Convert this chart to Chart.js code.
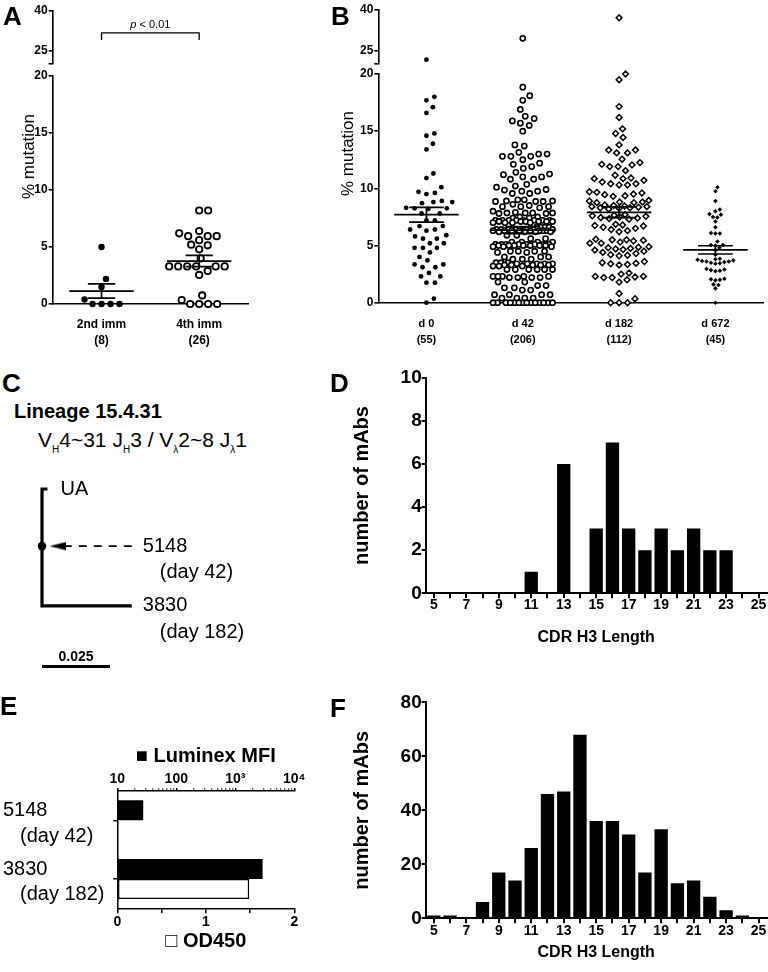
<!DOCTYPE html>
<html>
<head>
<meta charset="utf-8">
<title>Figure</title>
<script src="https://cdn.jsdelivr.net/npm/chart.js@4.4.1/dist/chart.umd.min.js"></script>
<style>
  html, body { margin:0; padding:0; background:#fff; }
  #wrap { position:relative; width:768px; height:972px; overflow:hidden; background:#fff; color:#000;
          font-family:"Liberation Sans", Arial, Helvetica, sans-serif; }
  #wrap canvas { position:absolute; z-index:1; }
  .t { position:absolute; white-space:nowrap; line-height:1; color:#000; z-index:5; }
  .s { font-size:10px; position:relative; top:6px; color:#000; }
</style>
</head>
<body>
<div id="wrap"></div>
<script>
// ================= DATA =================
// Panel A
const aCategories = ['2nd imm', '4th imm'];
const aSecondImm = [5.0, 2.2, 1.5, 0.4, 0, 0, 0, 0];
const aFourthImm = [8.2, 8.2, 6.2, 5.95, 5.95, 5.95, 6.4, 5.6, 5.15, 5.2, 4.8, 4.0, 3.3, 3.3, 3.3, 3.3, 3.3, 3.3, 2.9, 2.55, 0.35, 0, 0, 0, 0, 0.75];
const pValueLabel = 'p < 0.01';

// Panel B
const bCategories = ['d 0', 'd 42', 'd 182', 'd 672'];
const bDay0 = [21.6, 18.0, 17.7, 17.1, 16.6, 14.8, 14.6, 13.9, 13.4, 11.3, 10.9, 10.1, 9.6, 9.5, 9.7,
  8.8, 8.7, 8.8, 8.9, 8.25, 8.3, 8.25, 8.2, 7.8, 7.8, 7.2, 7.2, 6.7, 6.7, 6.4, 6.4, 6.3, 5.9, 5.8,
  5.6, 5.6, 5.2, 5.2, 4.8, 4.8, 4.8, 4.4, 4.0, 3.7, 3.35, 3.1, 3.1, 3.35, 2.6, 2.3, 2.3, 1.75, 1.75, 0.35, 0];
const bDay42 = [29.5,
  18.85, 18.1, 17.7, 16.9, 16.3, 16.1, 15.9, 15.7, 15.5, 15.0,
  13.8, 13.7,
  13.15, 13.0, 13.0, 12.8, 12.8, 12.8,
  12.5, 12.2, 12.1, 11.9, 11.75,
  11.4, 11.25, 11.2, 11.0, 11.0, 10.8, 10.8,
  10.35, 10.2, 10.1, 9.9, 9.85, 9.75, 9.75,
  9.55, 9.55,
  9.0, 9.0, 8.9, 8.9, 8.85, 8.85, 8.85,
  8.6, 8.5, 8.4, 8.4, 8.4, 8.3,
  8.0, 7.9, 7.85, 7.85, 7.85, 7.85, 7.8, 7.8,
  7.5, 7.5, 7.4, 7.4,
  7.2, 7.2, 7.2, 7.2, 7.2, 7.2, 7.2, 7.2,
  7.1, 7.1, 7.1, 7.1, 7.1, 7.1,
  7.0, 7.0, 7.0, 7.0,
  6.6, 6.6, 6.6, 6.6,
  6.4, 6.4, 6.4, 6.4, 6.4, 6.4, 6.4, 6.4,
  6.3, 6.3, 6.3, 6.3, 6.3, 6.3, 6.3, 6.3,
  6.2, 6.2, 6.2, 6.2,
  5.9, 5.9, 5.6, 5.6,
  5.3, 5.3, 5.3, 5.3,
  5.1, 5.1, 5.1, 5.1, 5.1, 5.1, 5.1, 5.1,
  5.0, 5.0, 5.0, 5.0, 5.0, 5.0, 5.0,
  4.9, 4.9, 4.9,
  4.5, 4.5, 4.5, 4.5, 4.4, 4.4,
  4.0, 4.0, 4.0, 3.8, 3.8, 3.8,
  3.5, 3.5, 3.5, 3.4, 3.4, 3.4, 3.4, 3.4, 3.3, 3.3, 3.3, 3.3, 3.3, 3.2, 3.2, 3.2,
  2.9, 2.9, 2.9, 2.9, 2.9, 2.9,
  2.3, 2.3, 2.3, 2.3, 2.3, 2.2, 2.2, 2.2, 2.2,
  1.8, 1.8,
  1.5, 1.5, 1.3, 1.3, 1.1, 1.1,
  0.7, 0.7, 0.7, 0.7, 0.4, 0.4, 0.4, 0.4,
  0, 0, 0, 0, 0, 0, 0, 0, 0, 0, 0, 0, 0, 0];
const bDay182 = [37.1,
  20.0, 19.5,
  17.15, 16.2, 15.2, 14.8, 14.45,
  13.8, 13.35, 13.35, 13.1, 13.1, 12.55,
  12.25, 12.1, 12.05, 11.9, 11.9, 11.55,
  11.15, 10.9, 10.85, 10.85, 10.7, 10.55, 10.4, 10.4, 10.3, 10.3,
  9.7, 9.65, 9.6, 9.5, 9.45, 9.35, 9.3,
  8.95, 8.9, 8.8, 8.8, 8.75, 8.75,
  8.55, 8.5, 8.45, 8.4, 8.4, 8.35, 8.3, 8.3, 8.25, 8.2,
  7.7, 7.65, 7.6, 7.55, 7.5, 7.45, 7.4, 7.35, 7.3,
  6.85, 6.8, 6.75, 6.7, 6.6, 6.5, 6.4, 6.3, 6.2,
  5.55, 5.5, 5.5, 5.45, 5.4, 5.3, 5.2, 5.2,
  4.9, 4.85, 4.8, 4.75, 4.7, 4.65, 4.6, 4.5, 4.4, 4.3, 4.2, 4.15, 4.1,
  3.6, 3.5, 3.45, 3.4, 3.35, 3.3,
  2.6, 2.5, 2.3, 2.3, 2.25, 2.2, 2.2, 2.0, 1.8,
  0.8, 0.35, 0, 0, 0];
const bDay672 = [10.1, 9.75, 8.9, 8.15, 8.0, 7.75, 7.7, 7.5, 7.45, 7.1, 6.6, 6.1, 6.05, 6.05,
  5.35, 5.05, 5.05, 5.0, 4.8, 4.6, 4.2,
  3.85, 3.8, 3.75, 3.7, 3.65, 3.6, 3.6, 3.55, 3.5, 3.45, 3.4,
  2.95, 2.9, 2.85, 2.8, 2.75,
  2.1, 2.05, 2.0, 1.95,
  1.6, 1.55,
  1.25, 0];
const mutationTicksLower = [0, 5, 10, 15, 20];
const mutationTicksUpper = [25, 40];
const mutationAxisTitle = '% mutation';

// Panel C (lineage tree)
const treeLabels = ['UA', '5148', '3830'];
const treeSubLabels = ['', '(day 42)', '(day 182)'];
const treeDepth = [0, 0.021, 0.043];
const treeBranch = [0.002, 0, 0.033];
const scaleBarLength = 0.025;

// Panels D and F (CDR H3 length histograms)
const cdrLengths = ['5', '6', '7', '8', '9', '10', '11', '12', '13', '14', '15', '16', '17', '18', '19', '20', '21', '22', '23', '24', '25'];
const dCounts = [0, 0, 0, 0, 0, 0, 1, 0, 6, 0, 3, 7, 3, 2, 3, 2, 3, 2, 2, 0, 0];
const fCounts = [1, 1, 0, 6, 17, 14, 26, 46, 47, 68, 36, 36, 31, 17, 33, 13, 14, 8, 3, 1, 0];

// Panel E
const eClones = ['5148', '3830'];
const eCloneDays = ['(day 42)', '(day 182)'];
const eLuminexMFI = [27.5, 2900];
const eOD450 = [null, 1.49];
const eMfiTickLabels = ['10', '100', '10³', '10⁴'];
const eOdTicks = [0, 0.5, 1, 1.5, 2];

// ================= HELPERS =================
const FONT = '"Liberation Sans", Arial, Helvetica, sans-serif';
Chart.defaults.font.family = FONT;
Chart.defaults.color = '#000';
const BREAK = 20;
const wrap = document.getElementById('wrap');

function makeCanvas(l, t, w, h) {
  const c = document.createElement('canvas');
  c.width = w; c.height = h;
  c.style.left = l + 'px'; c.style.top = t + 'px';
  c.style.width = w + 'px'; c.style.height = h + 'px';
  wrap.appendChild(c);
  return c;
}
function addText(html, x, baseline, size, weight) {
  const d = document.createElement('div');
  d.className = 't';
  d.innerHTML = html;
  d.style.fontSize = size + 'px';
  d.style.fontWeight = weight;
  d.style.left = x + 'px';
  d.style.top = Math.round(baseline - 0.8465 * size) + 'px';
  wrap.appendChild(d);
}
// rotated (vertical) text centred on (cx, cy), snapped to whole pixels
function addVText(text, cx, cy, size, weight) {
  const d = document.createElement('div');
  d.className = 't';
  d.textContent = text;
  d.style.fontSize = size + 'px';
  d.style.fontWeight = weight;
  d.style.left = '0px'; d.style.top = '0px';
  wrap.appendChild(d);
  const h = size;
  let w = Math.ceil(d.getBoundingClientRect().width);
  if ((w - h) % 2 !== 0) w += 1;
  d.style.width = w + 'px';
  d.style.height = h + 'px';
  d.style.textAlign = 'center';
  d.style.left = Math.round(cx - w / 2) + 'px';
  d.style.top = Math.round(cy - h / 2) + 'px';
  d.style.transform = 'rotate(-90deg)';
}
const base = () => ({ responsive:false, maintainAspectRatio:false, animation:false, devicePixelRatio:1, events:[],
  plugins:{ legend:{ display:false }, tooltip:{ enabled:false } } });

// beeswarm horizontal offsets (category units) so markers do not overlap
function swarm(values, yPx, xPx, d, maxHalf) {
  const order = values.map((_, i) => i).sort((a, b) => values[a] - values[b]);
  const cands = [0];
  for (let s = 0.5; s <= maxHalf + 1e-9; s += 0.5) cands.push(s, -s);
  const placed = [];
  const off = new Array(values.length).fill(0);
  for (const i of order) {
    const y = values[i] * yPx;
    const near = placed.filter(p => Math.abs(p.y - y) < d);
    let best = 0, bestScore = -1;
    for (const c of cands) {
      let minD = Infinity;
      for (const p of near) { const dd = Math.hypot(p.x - c, p.y - y); if (dd < minD) minD = dd; }
      if (minD >= d) { best = c; break; }
      if (minD > bestScore + 1e-6) { bestScore = minD; best = c; }
    }
    placed.push({ x: best, y });
    off[i] = best / xPx;
  }
  return off;
}
function meanSem(vals) {
  const n = vals.length;
  const m = vals.reduce((a, b) => a + b, 0) / n;
  const sd = Math.sqrt(vals.reduce((a, b) => a + (b - m) * (b - m), 0) / (n - 1));
  return { m, s: sd / Math.sqrt(n) };
}
function errorBarData(i, vals, mh, sh) {
  const { m, s } = meanSem(vals);
  return [
    { x: i - mh, y: m }, { x: i + mh, y: m }, { x: i, y: null },
    { x: i - sh, y: m + s }, { x: i + sh, y: m + s }, { x: i, y: null },
    { x: i - sh, y: m - s }, { x: i + sh, y: m - s }, { x: i, y: null },
    { x: i, y: m - s }, { x: i, y: m + s }
  ];
}

// ================= PANELS A & B =================
function mutationPanel(p) {
  const nC = p.cats.length;
  const xPx = (p.area.r - p.area.l) / nC;
  const yPx = (p.area.b - p.area.t) / BREAK;
  const yPxUp = (p.up.b - p.up.t) / (40 - p.up.min);
  const lowDs = [], upDs = [];
  p.groups.forEach((vals, i) => {
    const st = p.styles[i];
    const low = vals.filter(v => v <= BREAK), up = vals.filter(v => v > BREAK);
    const offL = swarm(low, yPx, xPx, p.spacing[i], p.maxHalf);
    const offU = swarm(up, yPxUp, xPx, p.spacing[i], p.maxHalf);
    const pt = { type:'scatter', pointStyle: st.shape, pointRadius: st.r, pointHoverRadius: st.r,
      pointBackgroundColor: st.fill, pointBorderColor:'#000', pointBorderWidth: st.bw, clip:false, order:1 };
    lowDs.push(Object.assign({}, pt, { data: low.map((v, j) => ({ x: i + offL[j], y: v })) }));
    upDs.push(Object.assign({}, pt, { data: up.map((v, j) => ({ x: i + offU[j], y: v })) }));
    lowDs.push({ type:'line', showLine:true, data: errorBarData(i, vals, p.meanHalf, p.semHalf), borderColor:'#000',
      borderWidth:1.7, pointRadius:0, pointHoverRadius:0, spanGaps:false, clip:false, order:0, tension:0, fill:false });
  });
  const yTickFont = { size:12, weight:'bold' };
  const lowTop = 60, lowH = 295;
  new Chart(makeCanvas(p.left, lowTop, p.width, lowH), {
    type:'scatter',
    data:{ datasets: lowDs },
    options: Object.assign(base(), {
      layout:{ padding:{ left:0, top: p.area.t - lowTop, right: p.left + p.width - p.area.r, bottom:0 } },
      scales:{
        x:{ type:'linear', min:-0.5, max:nC - 0.5,
            afterBuildTicks: s => { s.ticks = p.cats.map((_, i) => ({ value:i })); },
            afterFit: s => { s.height = lowTop + lowH - p.area.b; },
            grid:{ display:false, drawTicks:false },
            border:{ display:true, color:'#000', width:1.6 },
            ticks:{ autoSkip:false, maxRotation:0, padding:13, color:'#000', font:{ size:p.catFont, weight:'bold', lineHeight:16/p.catFont },
                    callback:(v, i) => [p.cats[i], '(' + p.groups[i].length + ')'] } },
        y:{ min:0, max:BREAK,
            afterBuildTicks: s => { s.ticks = mutationTicksLower.map(v => ({ value:v })); },
            afterFit: s => { s.width = p.area.l - p.left; },
            grid:{ drawOnChartArea:false, tickLength:4, color:'#000', lineWidth:1.6 },
            border:{ color:'#000', width:1.6 },
            ticks:{ padding:1, color:'#000', font:yTickFont } }
      }
    })
  });
  const upH = 72;
  new Chart(makeCanvas(p.left, 0, p.width, upH), {
    type:'scatter',
    data:{ datasets: upDs },
    options: Object.assign(base(), {
      layout:{ padding:{ left:0, top:p.up.t, right: p.left + p.width - p.area.r, bottom: upH - p.up.b } },
      scales:{
        x:{ type:'linear', display:false, min:-0.5, max:nC - 0.5 },
        y:{ min:p.up.min, max:40,
            afterBuildTicks: s => { s.ticks = [p.up.min].concat(mutationTicksUpper).map(v => ({ value:v })); },
            afterFit: s => { s.width = p.area.l - p.left; },
            grid:{ drawOnChartArea:false, tickLength:4, color:'#000', lineWidth:1.6 },
            border:{ color:'#000', width:1.6 },
            ticks:{ padding:1, color:'#000', font:yTickFont, autoSkip:false,
                    callback: v => mutationTicksUpper.includes(v) ? String(v) : '' } }
      }
    }),
    plugins: p.upPlugins || []
  });
}

const P_BRACKET = { y: 31.7, tip: 29.1, text: 33.6 };
const pBracketPlugin = {
  id:'pBracket',
  afterDatasetsDraw(chart) {
    const { ctx, scales:{ x, y } } = chart;
    const x0 = x.getPixelForValue(0), x1 = x.getPixelForValue(1);
    const yl = y.getPixelForValue(P_BRACKET.y), yt = y.getPixelForValue(P_BRACKET.tip);
    ctx.save();
    ctx.strokeStyle = '#000'; ctx.lineWidth = 1.3;
    ctx.beginPath(); ctx.moveTo(x0, yt); ctx.lineTo(x0, yl); ctx.lineTo(x1, yl); ctx.lineTo(x1, yt); ctx.stroke();
    const first = pValueLabel.charAt(0), rest = pValueLabel.slice(1);
    ctx.fillStyle = '#000'; ctx.textBaseline = 'alphabetic';
    ctx.font = 'italic 11px ' + FONT; const pw = ctx.measureText(first).width;
    ctx.font = '11px ' + FONT; const rw = ctx.measureText(rest).width;
    const sx = (x0 + x1) / 2 - (pw + rw) / 2, by = y.getPixelForValue(P_BRACKET.text);
    ctx.font = 'italic 11px ' + FONT; ctx.fillText(first, sx, by);
    ctx.font = '11px ' + FONT; ctx.fillText(rest, sx + pw, by);
    ctx.restore();
  }
};

mutationPanel({
  left:0, width:258, area:{ l:52.7, r:248, t:76, b:304 }, up:{ t:10.7, b:67, min:20.18 },
  cats:aCategories, groups:[aSecondImm, aFourthImm], catFont:12,
  styles:[ { shape:'circle', r:3.2, fill:'#000', bw:0 }, { shape:'circle', r:3.2, fill:'#fff', bw:1.8 } ],
  spacing:[9, 9], maxHalf:30, meanHalf:0.33, semHalf:0.14, upPlugins:[pBracketPlugin]
});
mutationPanel({
  left:330, width:438, area:{ l:378.3, r:767, t:74, b:302.7 }, up:{ t:10, b:66.7, min:20.08 },
  cats:bCategories, groups:[bDay0, bDay42, bDay182, bDay672], catFont:11,
  styles:[ { shape:'circle', r:2.4, fill:'#000', bw:0 }, { shape:'circle', r:2.6, fill:'#fff', bw:1.6 },
           { shape:'rectRot', r:2.9, fill:'#fff', bw:1.5 }, { shape:'rectRot', r:2.3, fill:'#000', bw:0 } ],
  spacing:[8.3, 8.3, 8.3, 4.4], maxHalf:30, meanHalf:0.335, semHalf:0.18
});

// ================= PANEL C =================
const C_LEFT = 0, C_TOP = 470, C_W = 330, C_H = 230;
const C_AREA = { l:10, t:480, r:320, b:690 };
const C_PX = 2720, C_ORIGIN = { x:42, y:489 };
const SCALE_BAR_DEPTH = 0.0653;
const POINTER_START = treeBranch[2], POINTER_END = 0.0088, ARROW_POS = 0.0057;
const arrowImg = (() => {
  const c = document.createElement('canvas'); c.width = 16; c.height = 9;
  const g = c.getContext('2d'); g.fillStyle = '#000';
  g.beginPath(); g.moveTo(0, 4.5); g.lineTo(16, 0.5); g.lineTo(16, 8.5); g.closePath(); g.fill();
  return c;
})();
const treeLabelPlugin = {
  id:'treeLabels',
  afterDatasetsDraw(chart) {
    const { ctx, scales:{ x, y } } = chart;
    ctx.save(); ctx.fillStyle = '#000'; ctx.textBaseline = 'middle'; ctx.textAlign = 'left';
    ctx.font = '20px ' + FONT;
    treeLabels.forEach((lab, i) => {
      const endX = i === 1 ? POINTER_START : treeBranch[i];
      const px = x.getPixelForValue(endX) + (i === 0 ? 13 : 11);
      const py = y.getPixelForValue(treeDepth[i]);
      ctx.fillText(lab, px, py);
      if (treeSubLabels[i]) ctx.fillText(treeSubLabels[i], px + 17, py + 26.5);
    });
    ctx.font = 'bold 14px ' + FONT; ctx.textAlign = 'center'; ctx.textBaseline = 'alphabetic';
    ctx.fillText(String(scaleBarLength), x.getPixelForValue(scaleBarLength / 2), y.getPixelForValue(SCALE_BAR_DEPTH) - 6);
    ctx.restore();
  }
};
new Chart(makeCanvas(C_LEFT, C_TOP, C_W, C_H), {
  type:'scatter',
  data:{ datasets:[
    { type:'line', showLine:true, data:[
        { x:treeBranch[0], y:treeDepth[0] }, { x:0, y:treeDepth[0] }, { x:0, y:treeDepth[2] }, { x:treeBranch[2], y:treeDepth[2] } ],
      borderColor:'#000', borderWidth:3.2, borderJoinStyle:'miter', pointRadius:0, tension:0, clip:false, fill:false },
    { type:'line', showLine:true, data:[ { x:POINTER_START, y:treeDepth[1] }, { x:POINTER_END, y:treeDepth[1] } ],
      borderColor:'#000', borderWidth:1.6, borderDash:[8, 7], pointRadius:0, tension:0, clip:false, fill:false },
    { type:'scatter', data:[ { x:ARROW_POS, y:treeDepth[1] } ], pointStyle:arrowImg, clip:false },
    { type:'scatter', data:[ { x:treeBranch[1], y:treeDepth[1] } ], pointStyle:'circle', pointRadius:4.3,
      pointBackgroundColor:'#000', pointBorderWidth:0, clip:false },
    { type:'line', showLine:true, data:[ { x:0, y:SCALE_BAR_DEPTH }, { x:scaleBarLength, y:SCALE_BAR_DEPTH } ],
      borderColor:'#000', borderWidth:3, pointRadius:0, tension:0, clip:false, fill:false }
  ] },
  options: Object.assign(base(), {
    layout:{ padding:{ left:C_AREA.l - C_LEFT, top:C_AREA.t - C_TOP, right:C_LEFT + C_W - C_AREA.r, bottom:C_TOP + C_H - C_AREA.b } },
    scales:{
      x:{ type:'linear', display:false, min:(C_AREA.l - C_ORIGIN.x) / C_PX, max:(C_AREA.r - C_ORIGIN.x) / C_PX },
      y:{ type:'linear', display:false, reverse:true, min:(C_AREA.t - C_ORIGIN.y) / C_PX, max:(C_AREA.b - C_ORIGIN.y) / C_PX }
    }
  }),
  plugins:[treeLabelPlugin]
});

// ================= PANELS D & F =================
function histogram(p) {
  new Chart(makeCanvas(p.left, p.top, p.width, p.height), {
    type:'bar',
    data:{ labels:cdrLengths, datasets:[ { data:p.counts, backgroundColor:'#000', borderWidth:0, barPercentage:0.82, categoryPercentage:1 } ] },
    options: Object.assign(base(), {
      layout:{ padding:{ left:0, top:p.area.t - p.top, right:p.left + p.width - p.area.r, bottom:0 } },
      scales:{
        x:{ type:'category', offset:true,
            afterFit: s => { s.height = p.top + p.height - p.area.b; },
            grid:{ offset:false, drawOnChartArea:false, tickLength:5, color:'#000', lineWidth:2 },
            border:{ color:'#000', width:2 },
            ticks:{ autoSkip:false, maxRotation:0, padding:p.xTickPad, color:'#000', font:{ size:14, weight:'bold' },
                    callback:(v, i) => i % 2 === 0 ? cdrLengths[i] : '' },
            title:{ display:true, text:'CDR H3 Length', color:'#000', font:{ size:16, weight:'bold' }, padding:{ top:0, bottom:p.xTitlePad } } },
        y:{ min:0, max:p.max,
            afterFit: s => { s.width = p.area.l - p.left; },
            ticks:{ stepSize:p.step, padding:0, color:'#000', font:{ size:19, weight:'bold' } },
            grid:{ drawOnChartArea:false, tickLength:4, color:'#000', lineWidth:2 },
            border:{ color:'#000', width:2 },
            title:{ display:true, text:'number of mAbs', color:'#000', font:{ size:20, weight:'bold' }, padding:{ top:20, bottom:0 } } }
      }
    })
  });
}
histogram({ left:330, top:360, width:438, height:292, area:{ l:425.7, r:766.7, t:377.7, b:593.3 }, counts:dCounts, max:10, step:2, xTickPad:-2, xTitlePad:4.4 });
histogram({ left:330, top:690, width:438, height:278, area:{ l:425.7, r:766.7, t:702.3, b:918.3 }, counts:fCounts, max:80, step:20, xTickPad:-1, xTitlePad:5.4 });

// ================= PANEL E =================
const E_LEFT = 0, E_TOP = 730, E_W = 320, E_H = 230;
const E_AREA = { l:117.3, r:294.3, t:791, b:908.3 };
const eMfiTicks = [];
for (let d = 10; d < 10000; d *= 10) for (let k = 1; k < 10; k++) eMfiTicks.push(k * d);
eMfiTicks.push(10000);
const isPow10 = v => Math.abs(Math.log10(v) - Math.round(Math.log10(v))) < 1e-9;
const eLabelPlugin = {
  id:'eLabels',
  afterDraw(chart) {
    const { ctx, scales:{ y } } = chart;
    ctx.save(); ctx.fillStyle = '#000'; ctx.textBaseline = 'middle'; ctx.textAlign = 'left';
    ctx.font = '20px ' + FONT;
    eClones.forEach((c, i) => {
      const py = y.getPixelForValue(i);
      ctx.fillText(c, 3 - E_LEFT, py - 9.5);
      ctx.fillText(eCloneDays[i], 20 - E_LEFT, py + 16);
    });
    ctx.restore();
  }
};
new Chart(makeCanvas(E_LEFT, E_TOP, E_W, E_H), {
  type:'bar',
  data:{ labels:eClones, datasets:[
    { label:'Luminex MFI', data:eLuminexMFI, xAxisID:'x', yAxisID:'y', backgroundColor:'#000', borderWidth:0, barPercentage:1, categoryPercentage:0.683 },
    { label:'OD450', data:eOD450, xAxisID:'x2', yAxisID:'y', backgroundColor:'#fff', borderColor:'#000', borderWidth:1.5, borderSkipped:false, barPercentage:1, categoryPercentage:0.683 }
  ] },
  options: Object.assign(base(), {
    indexAxis:'y',
    layout:{ padding:{ left:0, top:0, right:E_LEFT + E_W - E_AREA.r, bottom:0 } },
    scales:{
      y:{ type:'category', offset:true,
          afterFit: s => { s.width = E_AREA.l - E_LEFT; },
          grid:{ offset:false, drawOnChartArea:false, tickLength:4, color:'#000', lineWidth:1.5 },
          border:{ color:'#000', width:1.5 },
          ticks:{ callback:() => '' } },
      x:{ type:'logarithmic', position:'top', min:10, max:10000,
          afterBuildTicks: s => { s.ticks = eMfiTicks.map(v => ({ value:v, major:isPow10(v) })); },
          afterFit: s => { s.height = E_AREA.t - E_TOP; },
          grid:{ drawOnChartArea:false, tickLength:3, color:'#000', lineWidth:1.5,
                 tickWidth: c => (c.tick && isPow10(c.tick.value)) ? 1.5 : 0.8 },
          border:{ color:'#000', width:1.5 },
          ticks:{ autoSkip:false, maxRotation:0, padding:0, color:'#000', font:{ size:14, weight:'bold' },
                  callback: v => isPow10(v) ? eMfiTickLabels[Math.round(Math.log10(v)) - 1] : '' },
          title:{ display:true, text:'■ Luminex MFI', color:'#000', font:{ size:20, weight:'bold' }, padding:{ top:14.7, bottom:0 } } },
      x2:{ type:'linear', position:'bottom', min:0, max:2,
          afterBuildTicks: s => { s.ticks = eOdTicks.map(v => ({ value:v })); },
          afterFit: s => { s.height = E_TOP + E_H - E_AREA.b; },
          grid:{ drawOnChartArea:false, tickLength:5, color:'#000', lineWidth:1.5 },
          border:{ color:'#000', width:1.5 },
          ticks:{ autoSkip:false, maxRotation:0, padding:0, color:'#000', font:{ size:14, weight:'bold' },
                  callback: v => Number.isInteger(v) ? String(v) : '' },
          title:{ display:true, text:'□ OD450', color:'#000', font:{ size:20, weight:'bold' }, padding:{ top:0, bottom:6.3 } } }
    }
  }),
  plugins:[eLabelPlugin]
});

// ================= FREE TEXT =================
addText('A', 3, 25, 26, 'bold');
addText('B', 331, 25, 26, 'bold');
addText('C', 2, 392, 26, 'bold');
addText('D', 330, 392, 26, 'bold');
addText('E', 0, 715, 26, 'bold');
addText('F', 330, 717, 26, 'bold');
addVText(mutationAxisTitle, 28, 156, 17, 'normal');
addVText(mutationAxisTitle, 347, 153, 17, 'normal');
addText('Lineage 15.4.31', 14, 418, 20, 'bold');
addText('V<span class="s">H</span>4~31 J<span class="s">H</span>3 / V<span class="s">λ</span>2~8 J<span class="s">λ</span>1', 38, 447, 21, 'normal');
</script>
</body>
</html>
